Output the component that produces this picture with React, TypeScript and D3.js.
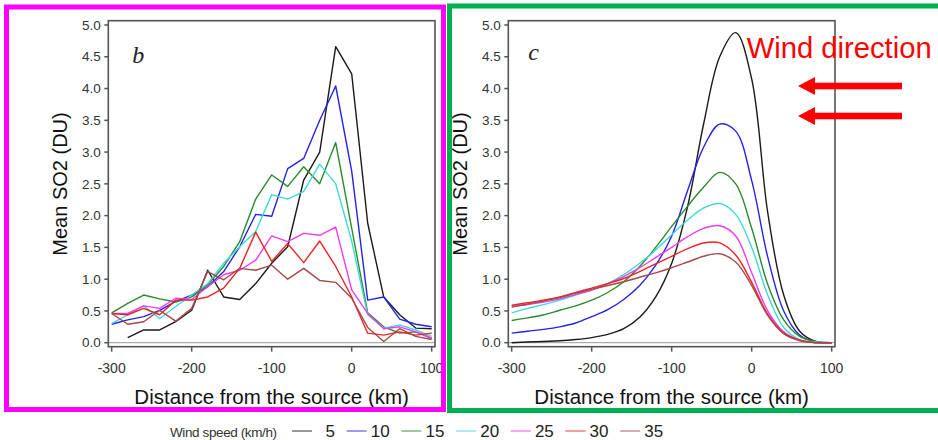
import React from 'react'
import * as d3 from 'd3'

// distance from the source (km), shared by every series
const distanceKm = [-300, -280, -260, -240, -220, -200, -180, -160, -140, -120, -100, -80, -60, -40, -20, 0, 20, 40, 60, 80, 100]

const windSpeeds = ['5', '10', '15', '20', '25', '30', '35']
const lineColors = ['#1a1a1a', '#2323e6', '#2a8a2a', '#3fd8d8', '#ee3cee', '#ee2222', '#a84848']

// panel b: observed mean SO2 (DU)
const obs5 = [null, 0.08, 0.2, 0.2, 0.33, 0.51, 1.14, 0.72, 0.68, 0.93, 1.25, 1.51, 2.56, 3.0, 4.66, 4.23, 1.88, 0.72, 0.44, 0.23, 0.22]
const obs10 = [0.29, 0.36, 0.41, 0.51, 0.65, 0.75, 0.88, 1.12, 1.51, 2.02, 1.99, 2.74, 2.9, 3.5, 4.04, 2.7, 0.67, 0.72, 0.37, 0.29, 0.25]
const obs15 = [0.47, 0.62, 0.75, 0.69, 0.64, 0.72, 0.91, 1.2, 1.59, 2.26, 2.64, 2.46, 2.77, 2.5, 3.15, 1.8, 0.47, 0.25, 0.15, 0.17, 0.07]
const obs20 = [0.3, 0.44, 0.58, 0.38, 0.57, 0.75, 0.93, 1.25, 1.51, 1.75, 2.33, 2.26, 2.38, 2.81, 2.5, 1.6, 0.44, 0.23, 0.28, 0.2, 0.1]
const obs25 = [0.46, 0.46, 0.58, 0.54, 0.7, 0.68, 0.88, 1.07, 1.14, 1.3, 1.68, 1.59, 1.72, 1.69, 1.82, 0.83, 0.46, 0.22, 0.25, 0.17, 0.07]
const obs30 = [0.46, 0.44, 0.54, 0.44, 0.67, 0.67, 0.72, 0.86, 1.17, 1.74, 1.28, 1.56, 1.26, 1.6, 1.2, 0.72, 0.15, 0.12, 0.17, 0.12, 0.15]
const obs35 = [0.46, 0.29, 0.33, 0.51, 0.34, 0.54, 1.12, 0.99, 1.17, 1.14, 1.22, 1.0, 1.17, 0.98, 0.95, 0.7, 0.24, 0.02, 0.22, 0.1, 0.05]

// panel c: modelled mean SO2 (DU)
const mod5 = [0, 0.01, 0.02, 0.03, 0.05, 0.08, 0.13, 0.22, 0.4, 0.72, 1.25, 2.15, 3.45, 4.5, 4.88, 4.15, 2.05, 0.75, 0.18, 0.02, 0]
const mod10 = [0.15, 0.18, 0.21, 0.25, 0.31, 0.41, 0.52, 0.68, 0.9, 1.22, 1.68, 2.4, 3.08, 3.44, 3.33, 2.55, 1.35, 0.5, 0.12, 0.01, 0]
const mod15 = [0.35, 0.39, 0.44, 0.51, 0.58, 0.67, 0.79, 0.96, 1.2, 1.5, 1.83, 2.15, 2.45, 2.68, 2.5, 1.8, 0.92, 0.36, 0.1, 0.02, 0]
const mod20 = [0.47, 0.54, 0.6, 0.67, 0.75, 0.83, 0.93, 1.07, 1.25, 1.46, 1.7, 1.93, 2.12, 2.19, 2.02, 1.5, 0.75, 0.24, 0.05, 0.01, 0]
const mod25 = [0.57, 0.6, 0.64, 0.69, 0.76, 0.83, 0.93, 1.04, 1.18, 1.34, 1.5, 1.67, 1.8, 1.84, 1.68, 1.1, 0.5, 0.17, 0.04, 0, 0]
const mod30 = [0.59, 0.63, 0.67, 0.72, 0.79, 0.86, 0.93, 1.01, 1.12, 1.24, 1.36, 1.48, 1.57, 1.57, 1.38, 0.95, 0.45, 0.15, 0.04, 0, 0]
const mod35 = [0.56, 0.61, 0.66, 0.71, 0.78, 0.84, 0.9, 0.96, 1.03, 1.1, 1.18, 1.27, 1.36, 1.4, 1.27, 0.9, 0.43, 0.14, 0.03, 0, 0]

const observed = [obs5, obs10, obs15, obs20, obs25, obs30, obs35]
const modelled = [mod5, mod10, mod15, mod20, mod25, mod30, mod35]

const yTicks = [0, 0.5, 1, 1.5, 2, 2.5, 3, 3.5, 4, 4.5, 5]
const xTicks = [-300, -200, -100, 0, 100]

const sans = '"Liberation Sans", Arial, sans-serif'
const serif = '"Liberation Serif", "Times New Roman", serif'

const boxTop = 20.7
const boxBottom = 346.7
const boxWidth = 326.7

const Panel = ({ left, letter, letterDx, letterY, series, curve }) => {
  const x = d3.scaleLinear().domain([-300, 100]).range([left + 3.4, left + 323.4])
  const y = d3.scaleLinear().domain([0, 5]).range([342.7, 25])
  const line = d3
    .line()
    .defined((d) => d[1] != null)
    .x((d) => x(d[0]))
    .y((d) => y(d[1]))
    .curve(curve)
  const right = left + boxWidth

  return (
    <g>
      <line x1={left} x2={right} y1={y(0)} y2={y(0)} stroke="#999" strokeWidth={1} />
      {series.map((vals, i) => (
        <path
          key={i}
          d={line(distanceKm.map((k, j) => [k, vals[j]]))}
          fill="none"
          stroke={lineColors[i]}
          strokeWidth={1.4}
          strokeLinejoin="round"
        />
      ))}
      <rect x={left} y={boxTop} width={boxWidth} height={boxBottom - boxTop} fill="none" stroke="#555" strokeWidth={1.6} />

      {yTicks.map((t) => (
        <g key={t}>
          <line x1={left - 4} x2={left} y1={y(t)} y2={y(t)} stroke="#555" strokeWidth={1.5} />
          <text x={left - 7.5} y={y(t)} dy="0.35em" textAnchor="end" fontSize={13.5} fill="#333" fontFamily={sans}>
            {d3.format('.1f')(t)}
          </text>
        </g>
      ))}
      {xTicks.map((t) => (
        <g key={t}>
          <line x1={x(t)} x2={x(t)} y1={boxBottom} y2={boxBottom + 5} stroke="#555" strokeWidth={1.5} />
          <text x={x(t)} y={373} textAnchor="middle" fontSize={14} fill="#333" fontFamily={sans}>
            {t}
          </text>
        </g>
      ))}

      <text
        transform={`translate(${left - 41},184) rotate(-90)`}
        textAnchor="middle"
        fontSize={20}
        fill="#111"
        fontFamily={sans}
      >
        Mean SO2 (DU)
      </text>
      <text x={left + boxWidth / 2} y={404} textAnchor="middle" fontSize={20.5} fill="#111" fontFamily={sans}>
        Distance from the source (km)
      </text>
      <text x={left + letterDx} y={letterY} fontSize={24} fontStyle="italic" fill="#222" fontFamily={serif}>
        {letter}
      </text>
    </g>
  )
}

const arrowRows = [86, 116]

export default function App() {
  return (
    <svg
      width={938}
      height={440}
      viewBox="0 0 938 440"
      style={{ position: 'absolute', left: 0, top: 0, background: '#fff' }}
    >
      <rect x={0} y={0} width={938} height={440} fill="#fff" />

      <Panel left={108.3} letter="b" letterDx={24} letterY={63} series={observed} curve={d3.curveLinear} />
      <Panel left={508.3} letter="c" letterDx={20} letterY={60} series={modelled} curve={d3.curveCatmullRom.alpha(0.5)} />

      {/* panel frames */}
      <rect x={6.5} y={7} width={437} height={402.5} fill="none" stroke="#ff00ff" strokeWidth={5} />
      <rect x={449.5} y={6} width={520} height={404.5} fill="none" stroke="#00b050" strokeWidth={5} />

      {/* wind direction note */}
      <text x={746.7} y={58} fontSize={29} fill="#ff0000" fontFamily={sans} textLength={185} lengthAdjust="spacingAndGlyphs">
        Wind direction
      </text>
      {arrowRows.map((ay) => (
        <g key={ay} fill="#ff0000">
          <rect x={812} y={ay - 3.3} width={90} height={6.6} />
          <path d={`M798,${ay} L815,${ay - 9} L815,${ay + 9} Z`} />
        </g>
      ))}

      {/* legend */}
      <text x={170} y={437} fontSize={13.5} fill="#333" fontFamily={sans} textLength={107} lengthAdjust="spacing">
        Wind speed (km/h)
      </text>
      {windSpeeds.map((w, i) => {
        const lx = 292 + i * 54.7
        return (
          <g key={w}>
            <line x1={lx} x2={lx + 20} y1={431} y2={431} stroke={lineColors[i]} strokeWidth={1.5} strokeOpacity={0.6} />
            <text x={lx + 43} y={437} textAnchor="end" fontSize={17} fill="#222" fontFamily={sans}>
              {w}
            </text>
          </g>
        )
      })}
    </svg>
  )
}
